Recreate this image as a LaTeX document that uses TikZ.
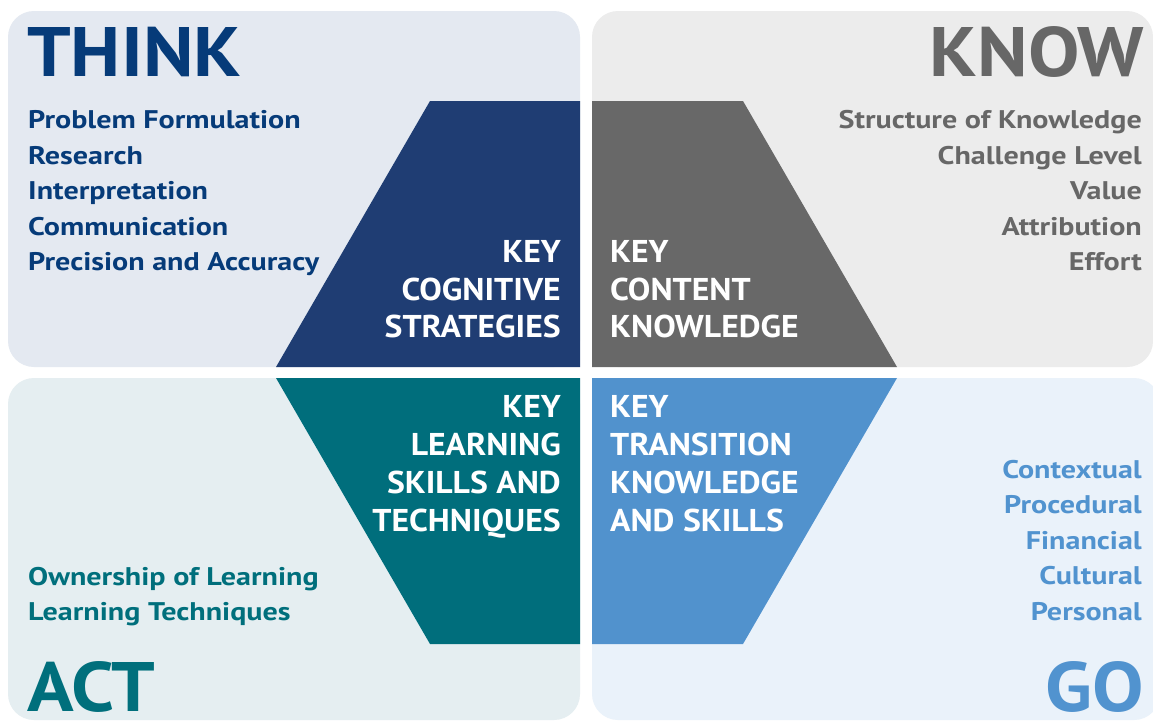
\documentclass[tikz,border=0pt]{standalone}
\usepackage{fontspec}
\setmainfont{PT Sans}
\newfontfamily\keyfont[FakeStretch=1.07]{PT Sans}
\newfontfamily\listfont[FakeStretch=1.18]{PT Sans}
\newfontfamily\titlefont[FakeStretch=1.1]{PT Sans}
\definecolor{thinkc}{HTML}{063B79}
\definecolor{knowc}{HTML}{676767}
\definecolor{actc}{HTML}{006F7C}
\definecolor{goc}{HTML}{5193CF}
\definecolor{bgTL}{HTML}{E4E9F1}
\definecolor{bgTR}{HTML}{ECECEC}
\definecolor{bgBL}{HTML}{E5EEF1}
\definecolor{bgBR}{HTML}{EAF2FA}
\definecolor{trapA}{HTML}{1F3D73}
\definecolor{trapB}{HTML}{686868}
\definecolor{trapC}{HTML}{006E7C}
\definecolor{trapD}{HTML}{5192CD}
\begin{document}
\begin{tikzpicture}[x=1pt,y=-1pt,
  panel/.style={rounded corners=26pt},
  title/.style={inner sep=0pt, font=\titlefont\fontsize{70}{70}\selectfont\bfseries},
  listitem/.style={inner sep=0pt, font=\listfont\fontsize{25.5}{30}\selectfont\bfseries},
  keyitem/.style={inner sep=0pt, text=white, font=\keyfont\fontsize{31.5}{36}\selectfont\bfseries}]
\useasboundingbox (0,0) rectangle (1153,723);
\clip (0,0) rectangle (1153,723);
\fill[white] (0,0) rectangle (1153,723);
% panels
\fill[bgTL, panel] (8,11) rectangle (580,367);
\fill[bgTR, panel] (592,11) rectangle (1153,367);
\fill[bgBL, panel] (8,378) rectangle (580,720);
\fill[bgBR, panel] (592,378) rectangle (1160,720);
% trapezoids
\fill[trapA] (430,101) -- (580,101) -- (580,367) -- (276,367) -- cycle;
\fill[trapB] (592,101) -- (743,101) -- (897,367) -- (592,367) -- cycle;
\fill[trapC] (276,378) -- (580,378) -- (580,644) -- (430,644) -- cycle;
\fill[trapD] (592,378) -- (897,378) -- (743,644) -- (592,644) -- cycle;
% titles
\node[title, text=thinkc, anchor=base west] (think) at (27,76) {THINK};
\node[title, text=knowc, anchor=base east] (know) at (1144,76) {KNOW};
\node[title, text=actc, anchor=base west] (act) at (27,711) {ACT};
\node[title, text=goc, anchor=base east] (go) at (1144,711) {GO};
% lists
\foreach \t/\yy [count=\i] in {Problem Formulation/128, Research/164, Interpretation/199, Communication/235, Precision and Accuracy/270}
  \node[listitem, text=thinkc, anchor=base west] (tl\i) at (28,\yy) {\t};
\foreach \t/\yy [count=\i] in {Structure of Knowledge/128, Challenge Level/164, Value/199, Attribution/235, Effort/270}
  \node[listitem, text=knowc, anchor=base east] (tr\i) at (1142,\yy) {\t};
\foreach \t/\yy [count=\i] in {Ownership of Learning/585, Learning Techniques/620}
  \node[listitem, text=actc, anchor=base west] (bl\i) at (28,\yy) {\t};
\foreach \t/\yy [count=\i] in {Contextual/478, Procedural/513, Financial/549, Cultural/584, Personal/620}
  \node[listitem, text=goc, anchor=base east] (br\i) at (1142,\yy) {\t};
% key labels
\foreach \t/\yy [count=\i] in {KEY/262, COGNITIVE/300, STRATEGIES/337}
  \node[keyitem, anchor=base east] (ka\i) at (561,\yy) {\t};
\foreach \t/\yy [count=\i] in {KEY/262, CONTENT/300, KNOWLEDGE/337}
  \node[keyitem, anchor=base west] (kb\i) at (610,\yy) {\t};
\foreach \t/\yy [count=\i] in {KEY/417, LEARNING/455, SKILLS AND/493, TECHNIQUES/531}
  \node[keyitem, anchor=base east] (kc\i) at (561,\yy) {\t};
\foreach \t/\yy [count=\i] in {KEY/417, TRANSITION/455, KNOWLEDGE/493, AND SKILLS/531}
  \node[keyitem, anchor=base west] (kd\i) at (610,\yy) {\t};
\end{tikzpicture}
\end{document}
